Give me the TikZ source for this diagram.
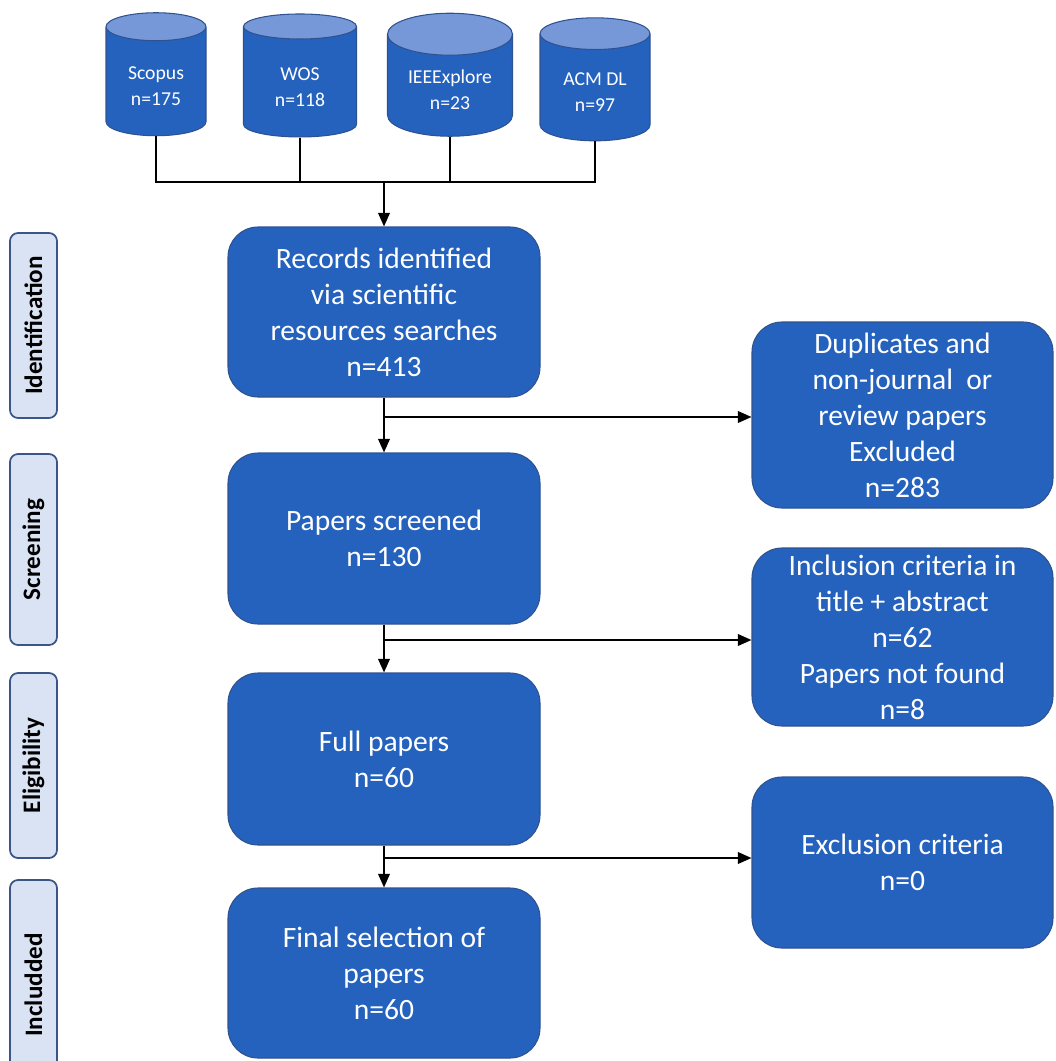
\documentclass[tikz,border=0pt]{standalone}
\usepackage{fontspec}
\setmainfont{Carlito}
\usetikzlibrary{positioning,arrows.meta,shapes.geometric}
\definecolor{prBlue}{RGB}{36,98,190}
\definecolor{prEdge}{RGB}{47,82,143}
\definecolor{prTop}{RGB}{118,152,216}
\definecolor{prPale}{RGB}{218,227,243}
\definecolor{prFrame}{RGB}{60,85,135}
\newcommand{\dbtext}[1]{\raisebox{-3.4pt}[\height][\depth]{\begin{tabular}{@{}c@{}}#1\end{tabular}}}

\begin{document}
\begin{tikzpicture}[
  stagebox/.style={draw=prEdge, line width=0.6pt, fill=prBlue, rounded corners=0.6cm, text=white, align=center,
    font=\fontsize{16.8}{20.5}\selectfont, inner sep=2pt},
  dbase/.style={cylinder, shape border rotate=90, aspect=0.5, draw=prEdge, line width=0.6pt,
    cylinder uses custom fill, cylinder body fill=prBlue, cylinder end fill=prTop,
    text=white, font=\fontsize{11.2}{14.8}\selectfont, minimum height=2.46cm, inner sep=0pt},
  phase/.style={draw=prFrame, line width=1pt, fill=prPale, rounded corners=0.16cm, rotate=90,
    font=\fontsize{14.3}{16}\selectfont\bfseries, minimum height=0.94cm},
  link/.style={black, line width=1.1pt},
  flow/.style={link, -{Triangle[length=0.27cm, width=0.23cm]}}
]
  \clip (0,0) rectangle (21.1,-21.22);

  % Databases
  \foreach \nm/\x/\y/\w/\txt in {sco/3.12/-1.63/2.0/{Scopus\\n=175}, wos/6.0/-1.64/2.26/{WOS\\n=118},
      ieee/9.0/-1.71/2.5/{IEEExplore\\n=23}, acm/11.9/-1.75/2.2/{ACM DL\\n=97}} {
    \node[dbase, minimum width=\w cm] (\nm) at (\x,\y) {\dbtext{\txt}};
  }

  % Phase labels
  \foreach \nm/\y/\len/\txt in {idl/-6.51/3.7/Identification, scl/-10.99/3.82/Screening,
      ell/-15.31/3.7/Eligibility, inl/-19.7/4.2/Includded} {
    \node[phase, minimum width=\len cm] (\nm) at (0.67,\y) {\txt};
  }

  % Main flow
  \node[stagebox, minimum width=6.24cm, minimum height=3.4cm] (rec) at (7.68,-6.24)
    {Records identified\\via scientific\\resources searches\\n=413};
  \node[stagebox, minimum width=6.24cm, minimum height=3.42cm] (scr) at (7.68,-10.77)
    {Papers screened\\n=130};
  \node[stagebox, minimum width=6.24cm, minimum height=3.44cm] (full) at (7.68,-15.18)
    {Full papers\\n=60};
  \node[stagebox, minimum width=6.24cm, minimum height=3.4cm] (fin) at (7.68,-19.46)
    {Final selection of\\papers\\n=60};

  % Exclusions
  \node[stagebox, minimum width=6.02cm, minimum height=3.72cm] (dup) at (18.05,-8.3)
    {Duplicates and\\non-journal~ or\\review papers\\Excluded\\n=283};
  \node[stagebox, minimum width=6.02cm, minimum height=3.56cm] (inc) at (18.05,-12.74)
    {Inclusion criteria in\\title + abstract\\n=62\\Papers not found\\n=8};
  \node[stagebox, minimum width=6.02cm, minimum height=3.42cm] (exc) at (18.05,-17.25)
    {Exclusion criteria\\n=0};

  % Connectors
  \coordinate (jn) at (7.68,-3.64);
  \draw[link] (sco.south) |- (jn);
  \draw[link] (acm.south) |- (jn);
  \foreach \nm in {wos,ieee}
    \draw[link] (\nm.south) -- (\nm.south |- jn);
  \draw[flow] (jn) -- (rec.north);

  \coordinate (b1) at (7.68,-8.34);
  \coordinate (b2) at (7.68,-12.8);
  \coordinate (b3) at (7.68,-17.16);
  \draw[flow] (rec) -- (scr);
  \draw[flow] (scr) -- (full);
  \draw[flow] (full) -- (fin);
  \draw[flow] (b1) -- (b1 -| dup.west);
  \draw[flow] (b2) -- (b2 -| inc.west);
  \draw[flow] (b3) -- (b3 -| exc.west);
\end{tikzpicture}
\end{document}
